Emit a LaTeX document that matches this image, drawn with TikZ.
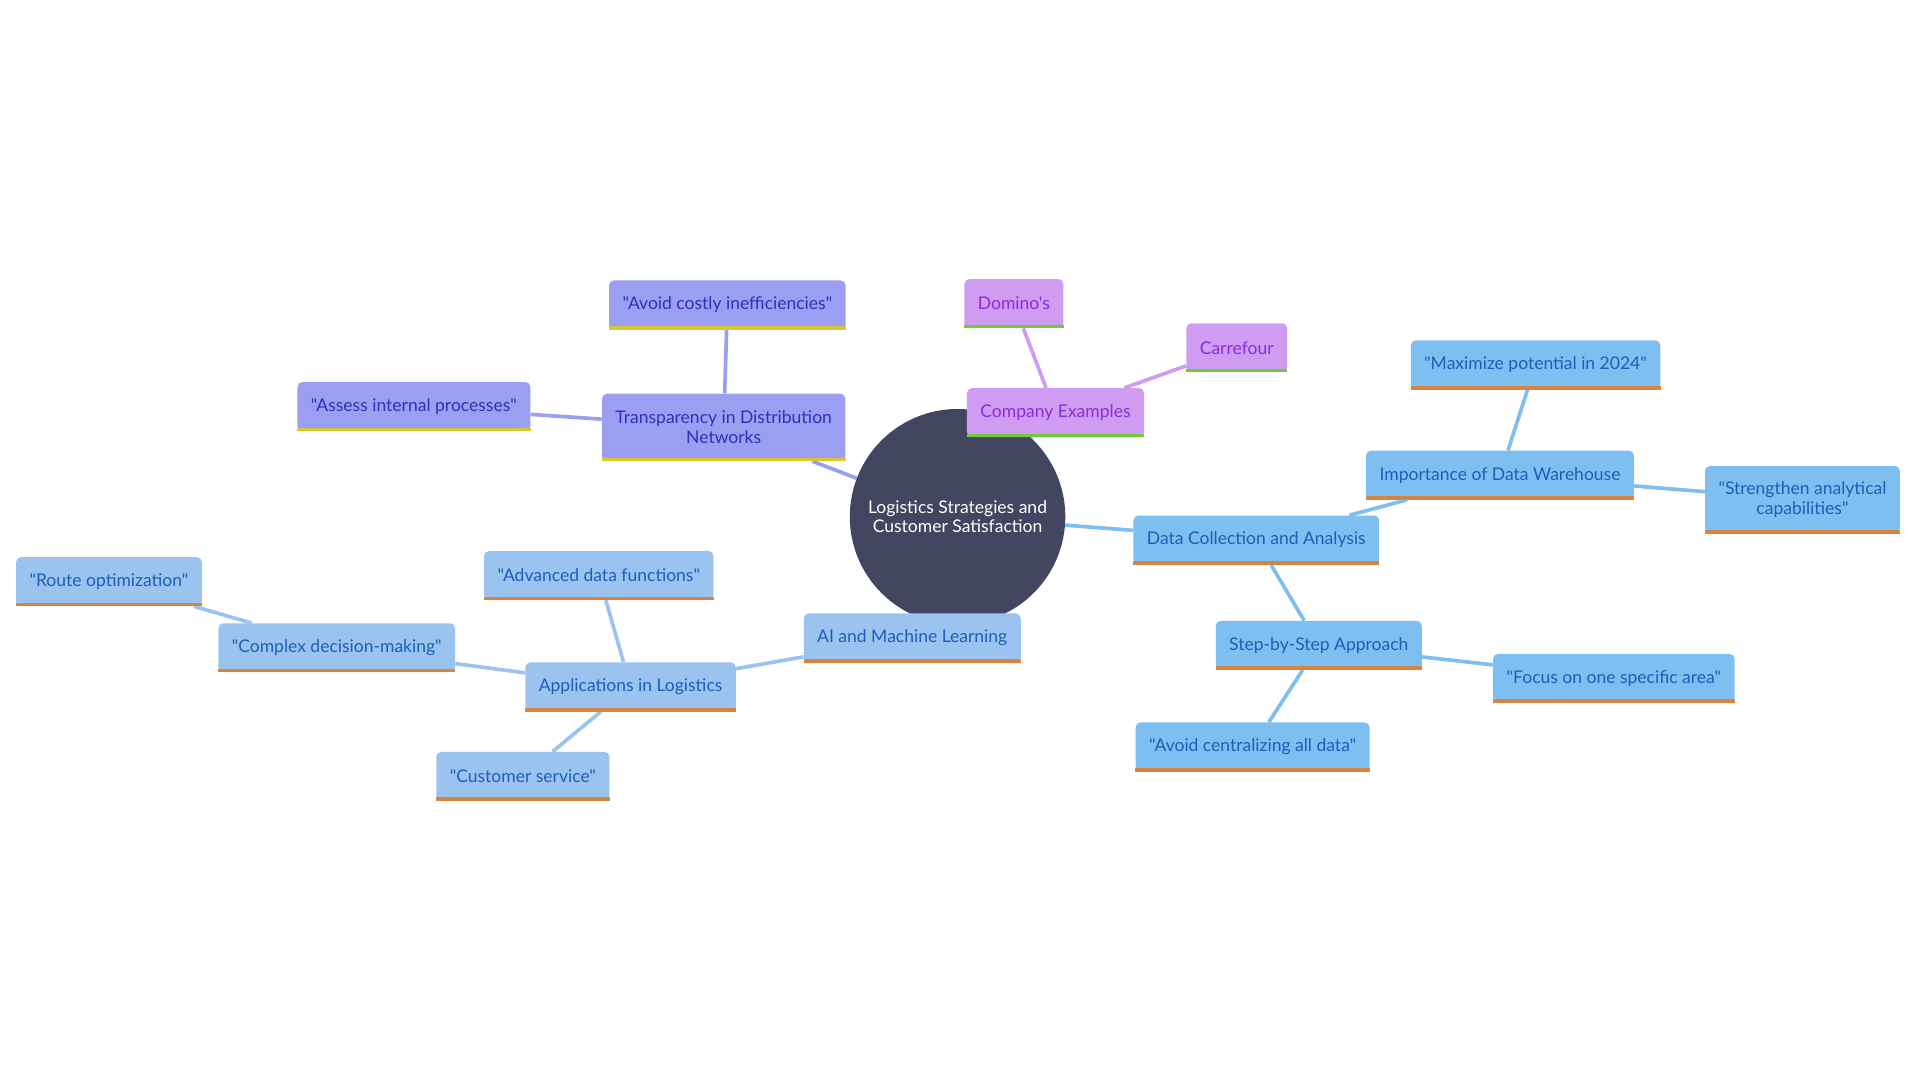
\documentclass[tikz,border=0pt]{standalone}
\usepackage{fontspec}
\setmainfont{Lato}[Ligatures=TeXOff]
\usetikzlibrary{backgrounds}

\definecolor{hubfill}{HTML}{424660}
\definecolor{trfill}{HTML}{9B9FF2}
\definecolor{trtext}{HTML}{3030B8}
\definecolor{trline}{HTML}{D6C833}
\definecolor{cofill}{HTML}{CF9CF2}
\definecolor{cotext}{HTML}{8A2CD8}
\definecolor{coline}{HTML}{6DCA3A}
\definecolor{dafill}{HTML}{7DBFF1}
\definecolor{aifill}{HTML}{9BC3F0}
\definecolor{bltext}{HTML}{1C5FB8}
\definecolor{orline}{HTML}{D9843E}

\begin{document}
\begin{tikzpicture}[x=1pt,y=-1pt,
  box/.style={rounded corners=4pt, inner xsep=11pt, inner ysep=0pt, minimum height=40pt,
    align=center, font=\fontsize{14.3}{16}\selectfont},
  trbox/.style={box, fill=trfill, text=trtext},
  cobox/.style={box, fill=cofill, text=cotext},
  dabox/.style={box, fill=dafill, text=bltext},
  aibox/.style={box, fill=aifill, text=bltext},
  link/.style={line width=3pt}]
\useasboundingbox (0,0) rectangle (1568,882);

%Keskus
\node[circle, fill=hubfill, text=white, minimum size=176pt, inner sep=0pt, align=center,
  font=\fontsize{14.3}{15}\selectfont] (hub) at (782,422) {Logistics Strategies and\\Customer Satisfaction};

%Transparency
\node[trbox, minimum height=55pt] (trans) at (591,349) {Transparency in Distribution\\Networks};
\node[trbox] (costly) at (594,249) {"Avoid costly inefficiencies"};
\node[trbox] (assess) at (338,332) {"Assess internal processes"};

%Company examples
\node[cobox] (comp) at (862,337) {Company Examples};
\node[cobox] (domino) at (828,248) {Domino's};
\node[cobox] (carre) at (1010,284) {Carrefour};

%Data
\node[dabox] (data) at (1026,441) {Data Collection and Analysis};
\node[dabox] (wareh) at (1225,388) {Importance of Data Warehouse};
\node[dabox] (maxim) at (1254,298) {"Maximize potential in 2024"};
\node[dabox, minimum height=55pt] (streng) at (1472,408) {"Strengthen analytical\\capabilities"};
\node[dabox] (steps) at (1077,527) {Step-by-Step Approach};
\node[dabox] (focus) at (1318,554) {"Focus on one specific area"};
\node[dabox] (central) at (1023,610) {"Avoid centralizing all data"};

%AI
\node[aibox] (ai) at (745,521) {AI and Machine Learning};
\node[aibox] (apps) at (515,561) {Applications in Logistics};
\node[aibox] (advan) at (489,470) {"Advanced data functions"};
\node[aibox] (compl) at (275,529) {"Complex decision-making"};
\node[aibox] (route) at (89,475) {"Route optimization"};
\node[aibox] (custo) at (427,634) {"Customer service"};

%Alareunat
\foreach \n/\c in {trans/trline, costly/trline, assess/trline,
    comp/coline, domino/coline, carre/coline,
    data/orline, wareh/orline, maxim/orline, streng/orline, steps/orline, focus/orline, central/orline,
    ai/orline, apps/orline, advan/orline, compl/orline, route/orline, custo/orline}
  \fill[\c] (\n.south west) rectangle ([yshift=3pt]\n.south east);

%Yhteydet
\begin{pgfonlayer}{background}
\draw[link, trfill] (hub) -- (trans) (trans) -- (costly) (trans) -- (assess);
\draw[link, cofill] (hub) -- (comp) (comp) -- (domino) (comp) -- (carre);
\draw[link, dafill] (hub) -- (data) (data) -- (wareh) (wareh) -- (maxim) (wareh) -- (streng)
  (data) -- (steps) (steps) -- (focus) (steps) -- (central);
\draw[link, aifill] (hub) -- (ai) (ai) -- (apps) (apps) -- (advan) (apps) -- (compl)
  (compl) -- (route) (apps) -- (custo);
\end{pgfonlayer}

\end{tikzpicture}
\end{document}
